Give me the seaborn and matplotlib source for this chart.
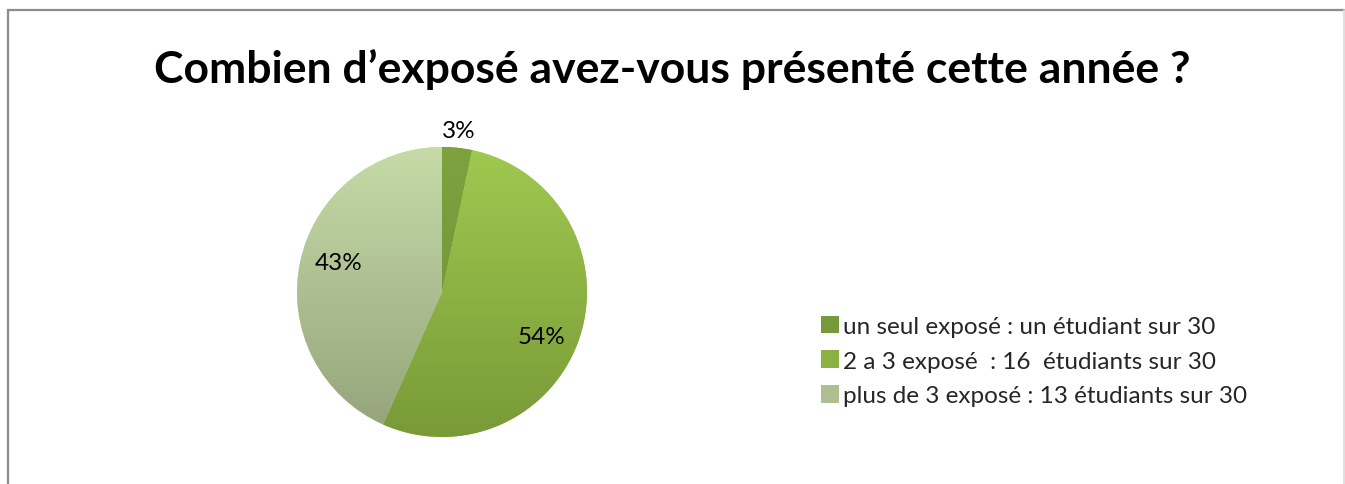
import numpy as np
import seaborn as sns
import matplotlib.pyplot as plt
from matplotlib.patches import Patch
from matplotlib.lines import Line2D

title = "Combien d\u2019exposé avez-vous présenté cette année ?"
categories = ["un seul exposé : un étudiant sur 30",
              "2 a 3 exposé  : 16  étudiants sur 30",
              "plus de 3 exposé : 13 étudiants sur 30"]
students = [1, 16, 13]
pct_labels = ["3%", "54%", "43%"]
label_dist = [1.12, 0.75, 0.74]

# gradient (top, bottom) per slice, like the office fill
top_colors = ["#7da23f", "#a0c950", "#c6dba8"]
bottom_colors = ["#6f9034", "#799a37", "#94a37a"]

sns.set_theme(style="white")
plt.rcParams['font.family'] = ['Lato', 'DejaVu Sans']

W, H = 1345, 485
fig = plt.figure(figsize=(W / 100, H / 100), dpi=100)

# pie axes: centre (442, 293), radius 145 px
cx, cy, r = 442, 293, 145
ax = fig.add_axes([(cx - r) / W, (H - cy - r) / H, 2 * r / W, 2 * r / H])
wedges, _ = ax.pie(students, startangle=90, counterclock=False, radius=1,
                   colors=top_colors, wedgeprops=dict(linewidth=0))
ax.set_xlim(-1, 1)
ax.set_ylim(-1, 1)
ax.set_aspect('equal')
ax.axis('off')

grad = np.linspace(0, 1, 256).reshape(-1, 1)
for w, c0, c1 in zip(wedges, top_colors, bottom_colors):
    cmap = sns.blend_palette([c0, c1], as_cmap=True)
    im = ax.imshow(grad, cmap=cmap, extent=[-1, 1, -1, 1], origin='upper',
                   aspect='auto', zorder=2)
    im.set_clip_path(w)

# excel "best fit" nudges the big labels a little off the mid-angle
angle_shift = [0, -6, -4]
for w, lab, d, s in zip(wedges, pct_labels, label_dist, angle_shift):
    ang = np.deg2rad((w.theta1 + w.theta2) / 2 + s)
    ax.text(d * np.cos(ang), d * np.sin(ang), lab, ha='center', va='center',
            fontsize=17.5, color='black', zorder=3)

fig.text(0.5, 1 - 69 / H, title, ha='center', va='center',
         fontsize=32, fontweight='bold', color='black')

handles = [Patch(facecolor=sns.blend_palette([a, b], 3)[1], edgecolor='none')
           for a, b in zip(top_colors, bottom_colors)]
fig.legend(handles, categories, loc='center left',
           bbox_to_anchor=(811 / W, 1 - 362 / H), frameon=False,
           fontsize=17.5, handlelength=0.75, handleheight=0.75,
           handletextpad=0.15, labelspacing=0.55, borderaxespad=0)

# chart frame
fig.add_artist(Line2D([8 / W, 8 / W], [0, 1 - 11 / H], transform=fig.transFigure,
                      color='#8c8c8c', lw=1.6))
fig.add_artist(Line2D([8 / W, 1344 / W], [1 - 11 / H, 1 - 11 / H],
                      transform=fig.transFigure, color='#8c8c8c', lw=1.6))
fig.add_artist(Line2D([1344 / W, 1344 / W], [0, 1 - 11 / H],
                      transform=fig.transFigure, color='#d9d9d9', lw=1.2))

fig.savefig("out.png", dpi=100, facecolor='white')
